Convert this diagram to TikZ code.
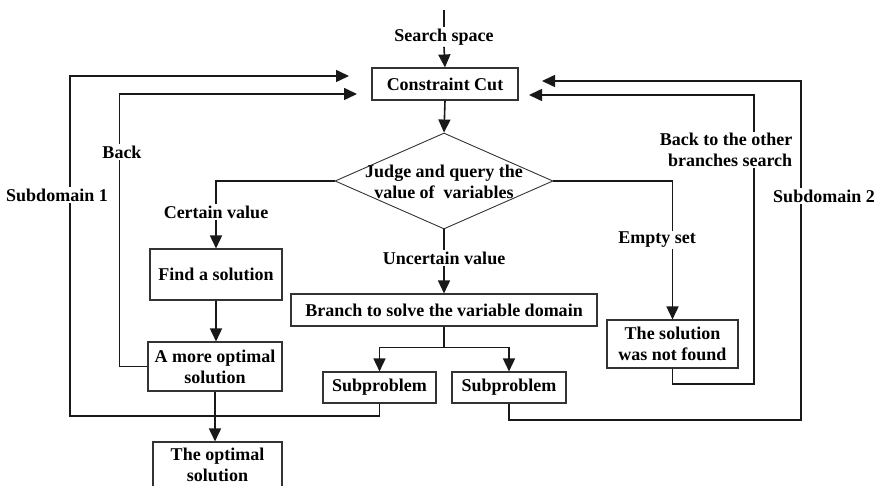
\documentclass[tikz,border=0pt]{standalone}
\usepackage{fontspec}
\setmainfont{Liberation Serif}
\usetikzlibrary{arrows.meta,shapes.geometric}
\begin{document}
\begin{tikzpicture}[x=1pt,y=-1pt,
  font=\fontsize{18}{21}\selectfont\bfseries,
  box/.style={draw=black!80, line width=1.1pt, inner sep=0pt, align=center},
  lbl/.style={fill=white, inner sep=1.5pt, align=center},
  conn/.style={line width=1.6pt, black!90},
  arr/.style={conn, -{Triangle[length=13pt,width=12pt]}},
]
\clip (0,0) rectangle (878,486);

% process boxes
\node[box, minimum width=146pt, minimum height=32pt] (cut) at (445,84) {Constraint Cut};
\node[draw=black!80, line width=0.9pt, diamond, minimum width=218pt, minimum height=96pt, inner sep=0pt] (judge) at (444,181) {};
\node[align=center] (judgetext) at (444,181.5) {Judge and query the\\value of~ variables};
\node[box, minimum width=132pt, minimum height=51pt] (find) at (216,274.5) {Find a solution};
\node[box, minimum width=134pt, minimum height=49pt] (better) at (215,366.5) {A more optimal\\solution};
\node[box, minimum width=129pt, minimum height=46pt] (optimal) at (217.5,465) {The optimal\\solution};
\node[box, minimum width=306pt, minimum height=32pt] (branch) at (444,310) {Branch to solve the variable domain};
\node[box, minimum width=113pt, minimum height=31pt] (sub1) at (379.5,387.5) {Subproblem};
\node[box, minimum width=114pt, minimum height=31pt] (sub2) at (509,387.5) {Subproblem};
\node[box, minimum width=131pt, minimum height=48pt] (nf) at (672.5,344) {The solution\\was not found};

% entry label and loose ends of the loops
\node[lbl] (search) at (444,37) {Search space};
\coordinate (top) at (444,10);
\coordinate (backin) at (357,94);
\coordinate (d1in) at (349,76);
\coordinate (d1turn) at (70,416);
\coordinate (d2in) at (542,81);
\coordinate (d2turn) at (801,420);
\coordinate (otherin) at (529,95);
\coordinate (otherturn) at (754,384);

% connectors
\draw[conn] (top) -- (search.north);
\draw[arr] (search.south) -- (cut.north);
\draw[arr] (cut.south) -- (judge.north);
\draw[arr] (judge.west) -| (find.north);
\draw[arr] (judge.east) -| (nf.north);
\draw[arr] (judge.south) -- (branch.north);
\draw[arr] (find.south) -- (find.south |- better.north);
\draw[arr] (better.south) -- (better.south |- optimal.north);
\draw[arr] (better.west) -- ++(-28,0) |- (backin);
\draw[conn] (branch.south) -- ++(0,21) coordinate (split);
\draw[arr] (split) -| (sub1.north);
\draw[arr] (split) -| (sub2.north);
\draw[arr] (sub1.south) |- (d1turn) |- (d1in);
\draw[arr] (sub2.south) |- (d2turn) |- (d2in);
\draw[arr] (nf.south) |- (otherturn) |- (otherin);

% labels lying on the connectors
\node[lbl] (certain) at (216,212) {Certain value};
\node[lbl] (uncertain) at (444,258) {Uncertain value};
\node[lbl] (empty) at (657,240) {Empty set};
\node[lbl] (back) at (122,152) {Back};
\node[lbl] (sd1) at (57,195) {Subdomain 1};
\node[lbl] (sd2) at (824,196) {Subdomain 2};
\node[lbl, align=right] (other) at (726,150) {Back to the other\\branches search};
\end{tikzpicture}
\end{document}
